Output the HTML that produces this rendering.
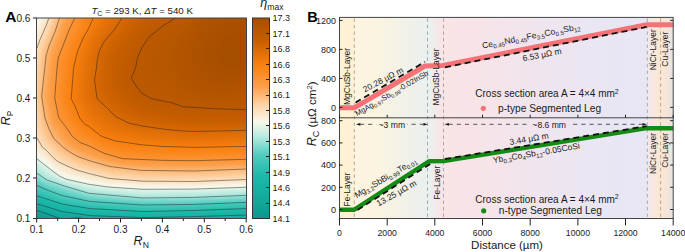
<!DOCTYPE html>
<html><head><meta charset="utf-8"><style>
html,body{margin:0;padding:0;background:#fff;}
body{width:685px;height:252px;overflow:hidden;}
svg{display:block;}
text{font-family:"Liberation Sans",sans-serif;fill:#1a1a1a;}
.t9{font-size:9px;}
.t85{font-size:8.5px;}
.t76{font-size:7.6px;}
.t95{font-size:9.5px;}
.t86{font-size:8.6px;}
.t87{font-size:8.7px;}
.t10{font-size:10px;}
.t11{font-size:11px;}
.t115{font-size:11.5px;}
.t12{font-size:12px;}
.tb{font-size:14px;font-weight:bold;fill:#000;}
</style></head><body>
<svg width="685" height="252" viewBox="0 0 685 252">
<rect width="685" height="252" fill="#fff"/>
<rect x="37.0" y="18.0" width="209.5" height="200.5" fill="#0c968a"/>
<path d="M37 18 246.5 18 246.5 218.5 37 218.5 37 18Z" fill="#0c968a"/>
<path d="M37 18 246.5 18 246.5 218.5 37 218.5 37 18Z" fill="#0c968a"/>
<path d="M37 18 246.5 18 246.5 218.5 37 218.5 37 18Z" fill="#0c968a"/>
<path d="M37 18 246.5 18 246.5 218.5 37 218.5 37 18Z" fill="#0c968a"/>
<path d="M37 18 246.5 18 246.5 218.5 37 218.5 37 18Z" fill="#0c978b"/>
<path d="M37 18 246.5 18 246.5 218.5 37 218.5 37 18Z" fill="#0d988c"/>
<path d="M37 18 246.5 18 246.5 218.5 39.6 218.5 37 217.8 37 18Z" fill="#0d9a8e"/>
<path d="M37 18 246.5 18 246.5 218.5 42.2 218.5 37 217 37 18Z" fill="#0e9b8f"/>
<path d="M37 18 246.5 18 246.5 218.5 44.5 218.5 37 216.3 37 18Z" fill="#0e9d91"/>
<path d="M37 18 246.5 18 246.5 218.5 46.7 218.5 37 215.5 37 18Z" fill="#0f9e92"/>
<path d="M37 18 246.5 18 246.5 218.5 48.7 218.5 37 214.8 37 18Z" fill="#0fa094"/>
<path d="M37 18 246.5 18 246.5 218.5 50.6 218.5 37 214.1 37 18Z" fill="#0fa195"/>
<path d="M37 18 246.5 18 246.5 218.5 52.5 218.5 37 213.4 37 18Z" fill="#10a296"/>
<path d="M37 18 246.5 18 246.5 218.5 54.3 218.5 37 212.7 37 18Z" fill="#10a396"/>
<path d="M37 18 246.5 18 246.5 218.5 56 218.5 37 212 37 18Z" fill="#11a497"/>
<path d="M37 18 246.5 18 246.5 218.5 81.3 218.5 78.9 218.2 57.7 218.5 37 211.3 37 18Z" fill="#11a598"/>
<path d="M37 18 246.5 18 246.5 218.5 82.3 218.5 78.9 217.9 70.1 218.5 59.4 218.5 37 210.7 37 18Z" fill="#12a699"/>
<path d="M37 18 246.5 18 246.5 218.5 83.3 218.5 78.9 217.6 61.9 218.3 58.9 217.8 37 210.1 37 18Z" fill="#12a699"/>
<path d="M37 18 246.5 18 246.5 218.5 84.3 218.5 78.9 217.3 62.9 217.8 58.9 217.2 37 209.5 37 18Z" fill="#13a79a"/>
<path d="M37 18 246.5 18 246.5 218.5 85.4 218.5 78.9 217 60.9 217.1 37 209 37 18Z" fill="#13a89b"/>
<path d="M37 18 246.5 18 246.5 218.5 86.7 218.5 78.9 216.7 60.9 216.5 37 208.4 37 18Z" fill="#14a99c"/>
<path d="M37 18 246.5 18 246.5 218.5 88.3 218.5 79.9 216.5 60.9 215.9 37 207.9 37 18Z" fill="#14aa9d"/>
<path d="M37 18 246.5 18 246.5 218.5 90.6 218.5 79.9 216.2 60.9 215.3 37 207.4 37 18Z" fill="#15ab9d"/>
<path d="M37 18 246.5 18 246.5 218.5 95.2 218.5 88.9 217.9 79.9 215.9 61.9 214.9 37 206.8 37 18Z" fill="#15ac9e"/>
<path d="M37 18 246.5 18 246.5 218.5 234.5 218.1 212.9 218.5 104.5 218.5 96.9 218.1 88.9 217.5 79.9 215.7 61.9 214.3 37 206.3 37 18Z" fill="#15ad9f"/>
<path d="M37 18 246.5 18 246.5 218.5 242.5 217.8 236.5 217.5 192.8 218.5 123.9 218.5 94.9 217.6 88.9 217.1 78.9 215.2 61.9 213.7 37 205.8 37 18Z" fill="#16aea0"/>
<path d="M37 18 246.5 18 246.5 217.5 235.5 216.9 173.5 218.5 132.2 218.5 90.9 216.9 78.9 214.9 61.9 213.1 37 205.2 37 18Z" fill="#16afa1"/>
<path d="M37 18 246.5 18 246.5 216.4 235.5 216.3 169.7 218.2 142.7 218.4 90.9 216.4 61.9 212.5 37 204.7 37 18Z" fill="#17b0a1"/>
<path d="M37 18 246.5 18 246.5 215.5 142.7 217.9 89.9 215.9 61.9 211.8 37 204.1 37 18Z" fill="#17b1a2"/>
<path d="M37 18 246.5 18 246.5 214.7 194.6 216.4 142.7 217.4 89.9 215.5 61.9 211.2 37 203.6 37 18Z" fill="#18b2a3"/>
<path d="M37 18 246.5 18 246.5 214.1 195.6 215.9 142.7 216.9 89.9 215 61.9 210.6 37 203 37 18Z" fill="#18b3a4"/>
<path d="M37 18 246.5 18 246.5 213.5 195.6 215.4 142.7 216.4 89.9 214.5 79.9 213.2 61.9 210 37 202.4 37 18Z" fill="#19b3a4"/>
<path d="M37 18 246.5 18 246.5 212.9 195.6 214.9 142.7 215.9 88.9 213.9 79.9 212.8 61.9 209.4 37 201.8 37 18Z" fill="#19b4a5"/>
<path d="M37 18 246.5 18 246.5 212.4 195.6 214.4 142.7 215.4 88.9 213.4 80.9 212.5 61.9 208.8 37 201.1 37 18Z" fill="#1ab5a6"/>
<path d="M37 18 246.5 18 246.5 211.9 195.6 213.9 142.7 214.9 88.9 212.8 79.9 211.7 61.9 208.2 37 200.5 37 18Z" fill="#1ab6a7"/>
<path d="M37 18 246.5 18 246.5 211.4 195.6 213.4 142.7 214.4 88.9 212.2 80.9 211.3 61.9 207.6 37 199.8 37 18Z" fill="#1bb7a8"/>
<path d="M37 18 246.5 18 246.5 210.9 195.6 212.9 142.7 213.9 88.9 211.6 79.9 210.5 61.9 207 37 199.2 37 18Z" fill="#1bb8a8"/>
<path d="M37 18 246.5 18 246.5 210.4 195.6 212.4 142.7 213.5 88.9 211 80.9 210 61.9 206.3 37 198.5 37 18Z" fill="#1cb9a9"/>
<path d="M37 18 246.5 18 246.5 209.9 195.6 211.9 142.7 213 89.9 210.4 80.9 209.3 61.9 205.7 37 197.8 37 18Z" fill="#1cbaaa"/>
<path d="M37 18 246.5 18 246.5 209.4 194.6 211.4 142.7 212.5 89.9 209.8 61.9 205.1 37 197.2 37 18Z" fill="#1fbbab"/>
<path d="M37 18 246.5 18 246.5 208.9 194.6 210.9 142.7 212 89.9 209.1 61.9 204.5 37 196.5 37 18Z" fill="#23bcad"/>
<path d="M37 18 246.5 18 246.5 208.5 194.6 210.5 142.7 211.4 89.9 208.5 61.9 203.9 37 195.7 37 18Z" fill="#26bdae"/>
<path d="M37 18 246.5 18 246.5 208 194.6 210 142.7 210.9 90.9 208 61.9 203.3 37 195 37 18Z" fill="#29bfaf"/>
<path d="M37 18 246.5 18 246.5 207.5 194.6 209.5 142.7 210.4 90.9 207.4 61.9 202.6 37 194.2 37 18Z" fill="#2cc0b1"/>
<path d="M37 18 246.5 18 246.5 207 194.6 209 142.7 209.9 90.9 206.8 61.9 202 37 193.4 37 18Z" fill="#30c1b2"/>
<path d="M37 18 246.5 18 246.5 206.5 194.6 208.5 142.7 209.4 91.9 206.3 61.9 201.3 37 192.6 37 18Z" fill="#33c2b3"/>
<path d="M37 18 246.5 18 246.5 206 194.6 208 142.7 208.8 91.9 205.7 61.9 200.6 37 191.7 37 18Z" fill="#36c3b5"/>
<path d="M37 18 246.5 18 246.5 205.5 194.6 207.5 142.7 208.3 91.9 205.2 61.9 199.9 37 190.9 37 18Z" fill="#39c4b6"/>
<path d="M37 18 246.5 18 246.5 205.1 194.6 207 142.7 207.8 91.9 204.6 61.9 199.3 37 190 37 18Z" fill="#3dc6b7"/>
<path d="M37 18 246.5 18 246.5 204.6 194.6 206.5 142.7 207.3 90.9 204 61.9 198.6 47 193.3 37 189.2 37 18Z" fill="#40c7b9"/>
<path d="M37 18 246.5 18 246.5 204.1 194.6 206.1 142.7 206.7 90.9 203.4 61.9 197.9 46.8 192.4 37 188.3 37 18Z" fill="#43c8ba"/>
<path d="M37 18 246.5 18 246.5 203.6 194.6 205.6 142.7 206.2 89.9 202.8 61.9 197.2 47 191.7 37 187.5 37 18Z" fill="#47c9bb"/>
<path d="M37 18 246.5 18 246.5 203 194.6 205 142.7 205.7 89.9 202.2 61.9 196.4 47 191 37 186.6 37 18Z" fill="#4acabd"/>
<path d="M37 18 246.5 18 246.5 202.5 194.6 204.5 142.7 205.1 89.9 201.6 61.9 195.7 47 190.2 37 185.7 37 18Z" fill="#4dcbbe"/>
<path d="M37 18 246.5 18 246.5 202 194.6 204 142.7 204.6 89.9 201 61.9 194.9 47 189.4 37 184.8 37 18Z" fill="#50ccbf"/>
<path d="M37 18 246.5 18 246.5 201.5 194.6 203.5 142.7 204.1 89.9 200.4 61.9 194 47 188.6 37 183.9 37 18Z" fill="#56cec1"/>
<path d="M37 18 246.5 18 246.5 200.9 194.6 203 142.7 203.5 89.9 199.8 61.9 193.1 47 187.8 37 183 37 18Z" fill="#5dd0c3"/>
<path d="M37 18 246.5 18 246.5 200.4 194.6 202.4 142.7 203 90.9 199.3 85.9 198.4 61.9 192.2 47 186.9 37 182.1 37 18Z" fill="#64d2c6"/>
<path d="M37 18 246.5 18 246.5 199.8 194.6 201.9 142.7 202.4 90.9 198.6 84.8 197.4 61.9 191.3 47 186.1 37 181.1 37 18Z" fill="#6bd4c8"/>
<path d="M37 18 246.5 18 246.5 199.2 194.6 201.3 142.7 201.9 90.9 198 85.9 197 65.9 191.6 50 186.4 44 184 37 180.1 37 18Z" fill="#72d6ca"/>
<path d="M37 18 246.5 18 246.5 198.7 194.6 200.7 142.7 201.3 90.9 197.3 86.2 196.4 66.9 191 49 185.3 43 182.7 37 179.1 37 18Z" fill="#79d8cc"/>
<path d="M37 18 246.5 18 246.5 198.1 194.6 200.2 142.7 200.7 90.9 196.6 86.9 195.9 66.9 190.2 48 184.1 43 181.9 37 178.1 37 18Z" fill="#80dace"/>
<path d="M37 18 246.5 18 246.5 197.5 194.6 199.6 142.7 200.1 90.9 195.9 86.9 195.3 75.9 192 48 183.3 43.7 181.4 37 177 37 18Z" fill="#87dcd1"/>
<path d="M37 18 246.5 18 246.5 196.9 194.6 199 142.7 199.6 89.9 195.2 66.9 188.6 47 182.2 43.5 180.4 37 176 37 18Z" fill="#8eded3"/>
<path d="M37 18 246.5 18 246.5 196.3 194.6 198.4 142.7 199 89.9 194.5 66.9 187.9 47 181.4 37 174.9 37 18Z" fill="#95e0d5"/>
<path d="M37 18 246.5 18 246.5 195.6 194.6 197.8 142.7 198.4 89.9 193.8 65.9 186.9 47 180.5 37 173.8 37 18Z" fill="#9de2d7"/>
<path d="M37 18 246.5 18 246.5 195 194.6 197.1 142.7 197.7 89.9 193.1 65.9 186.2 48 180.1 45 178.5 37 172.7 37 18Z" fill="#a4e4d9"/>
<path d="M37 18 246.5 18 246.5 194.4 194.6 196.5 142.7 197 89.9 192.4 65.9 185.6 48.6 179.4 45 177.4 37 171.6 37 18Z" fill="#abe6dc"/>
<path d="M37 18 246.5 18 246.5 193.7 194.6 195.8 142.7 196.4 90.9 191.8 65.9 184.9 49 178.7 46 177.1 37 170.4 37 18Z" fill="#b2e8de"/>
<path d="M37 18 246.5 18 246.5 193.1 194.6 195.1 142.7 195.7 90.9 191.1 66.9 184.7 57 181.1 47 176.6 37 169.3 37 18Z" fill="#b9eae0"/>
<path d="M37 18 246.5 18 246.5 192.4 194.6 194.4 142.7 194.9 91.9 190.5 87.9 189.8 66.9 184.1 58.9 181.2 48 176.2 37 168.1 37 18Z" fill="#beebe1"/>
<path d="M37 18 246.5 18 246.5 191.7 194.6 193.7 142.7 194.2 109.8 191.6 91.9 189.7 86.9 188.8 66.9 183.5 58.9 180.6 48.4 175.4 37 167 37 18Z" fill="#c4ece2"/>
<path d="M37 18 246.5 18 246.5 191 194.6 193 142.7 193.5 109.8 191 91.9 189 66.9 182.9 60.1 180.4 49 174.7 37 165.8 37 18Z" fill="#c9eee3"/>
<path d="M37 18 246.5 18 246.5 190.4 194.6 192.3 142.7 192.8 109.8 190.4 92.9 188.4 87.9 187.6 66.9 182.4 61.6 180.4 50 174.3 37 164.6 37 18Z" fill="#cfefe4"/>
<path d="M37 18 246.5 18 246.5 189.7 194.6 191.7 142.7 192 109.8 189.7 92.9 187.7 85.9 186.4 66.9 181.8 63 180.4 58 178.1 50.2 173.4 37 163.5 37 18Z" fill="#d4f0e5"/>
<path d="M37 18 246.5 18 246.5 189 194.6 191 143.7 191.3 107.8 188.9 88.9 186.4 64.9 180.6 58.1 177.4 51.8 173.4 37 162.3 37 18Z" fill="#daf1e6"/>
<path d="M37 18 246.5 18 246.5 188.4 194.6 190.3 143.7 190.6 107.8 188.2 88.9 185.6 64.9 180 57.7 176.4 50 171.1 37 161.1 37 18Z" fill="#dff3e7"/>
<path d="M37 18 246.5 18 246.5 187.7 194.6 189.7 142.7 189.9 107.8 187.6 88.9 184.9 65.1 179.4 58 175.7 37 159.9 37 18Z" fill="#e5f4e8"/>
<path d="M37 18 246.5 18 246.5 187.1 194.6 189 142.7 189.2 108.8 187.1 88.9 184.2 65.9 179 58.8 175.4 37.8 159.4 37 158.7 37 18Z" fill="#eaf5e9"/>
<path d="M37.8 19 38.4 18 246.5 18 246.5 186.5 194.6 188.4 142.7 188.5 108.8 186.4 88.9 183.4 65.9 178.3 59.9 175.3 39 159.1 37 157.5 37 20.3 37.8 19Z" fill="#f0f6ea"/>
<path d="M39.8 18 246.5 18 246.5 185.9 194.6 187.8 143.7 187.9 108.8 185.7 88.9 182.6 65.9 177.5 59.9 174.3 39.5 158.3 37 156.1 37 22.8 39.8 18Z" fill="#f5f7eb"/>
<path d="M40.8 18 246.5 18 246.5 185.3 194.6 187.2 143.7 187.2 109.8 185.2 88.9 181.8 66.9 176.9 60.2 173.4 47.2 163.4 37 154.8 37 25.2 40.8 18Z" fill="#f8f7e9"/>
<path d="M41.8 18 246.5 18 246.5 184.7 194.6 186.6 143.7 186.6 109.8 184.5 88.9 180.9 67.9 176.3 61.8 173.4 51 165.4 37 153.4 37 27.6 41.8 18Z" fill="#f9f4e4"/>
<path d="M42.8 18 246.5 18 246.5 184.1 194.6 186 144.7 186 109.8 183.8 88.9 180.1 67.9 175.3 61.9 172.4 51.1 164.4 37 152 37 30 42.8 18Z" fill="#f9f1df"/>
<path d="M43.7 18 246.5 18 246.5 183.5 194.6 185.4 144.7 185.3 109.8 183.1 88.9 179.2 68.9 174.6 62.9 171.8 52.4 164.4 40 153.6 37 150.4 37 32.3 43.7 18Z" fill="#f9efda"/>
<path d="M44.6 18 246.5 18 246.5 182.8 194.6 184.8 144.7 184.7 110.8 182.5 89.1 178.4 69.9 173.8 62.9 170.6 53 163.7 40 152.3 37 148.8 37 34.6 44.6 18Z" fill="#faecd5"/>
<path d="M45.5 18 246.5 18 246.5 182.2 194.6 184.2 144.7 184 110.8 181.8 88.9 177.4 71.9 173.3 64.8 170.4 53.9 163.4 40.5 151.3 37 146.9 37 37 44 22.1 45.5 18Z" fill="#fae9d0"/>
<path d="M46.3 18 246.5 18 246.5 181.6 194.6 183.5 143.7 183.4 109.8 181 88.9 176.5 72.8 172.4 64.9 169.1 54 162.4 40.9 150.3 37 144.8 37 39.4 44.5 23 46.3 18Z" fill="#fae7cb"/>
<path d="M46.8 19 47.1 18 246.5 18 246.5 180.9 194.6 182.9 143.7 182.7 110.8 180.4 89.9 175.8 74.9 171.9 65.9 168.3 55.4 162.4 41.3 149.3 37 142.6 37 42 46.8 19Z" fill="#fbe4c6"/>
<path d="M47.7 19 48 18 246.5 18 246.5 180.3 194.6 182.3 143.7 182 109.8 179.5 75.9 171.1 65.9 167 56 161.6 50.2 156.3 46 151.7 41.7 148.3 37 140.4 37 44.7 47.7 19Z" fill="#fbe1c1"/>
<path d="M48.8 18 246.5 18 246.5 179.6 194.6 181.6 142.7 181.3 109.8 178.7 76.9 170.3 65.9 165.7 57 161.1 51 155.7 46.2 150.3 42.3 147.3 37 138.2 37 47.7 39.6 40.1 46.3 25 48.8 18Z" fill="#fcdfbc"/>
<path d="M49.6 18 246.5 18 246.5 178.9 194.6 180.9 143.7 180.6 109.8 177.8 76.9 169.1 65.9 164.4 57 159.8 52 155.2 47 149.6 43.1 146.3 38.4 138.3 37 135.1 37 51 40.2 41.1 47.2 25 49.6 18Z" fill="#fcdcb7"/>
<path d="M50.5 18 246.5 18 246.5 178.1 194.6 180.2 143.7 179.8 110.8 177 89.9 171.9 77.9 168.3 60 160.4 57 158.3 44 145.5 39.1 137.3 37 130.8 37 55.2 40.3 43.1 48 25.3 50.5 18Z" fill="#fcd9b2"/>
<path d="M51.3 18 246.5 18 246.5 177.3 194.6 179.4 144.7 179 110.8 176.1 90.9 171.1 78.4 167.4 64.7 161.4 58 157.6 53.2 153.3 44 143.3 39.5 135.3 37 124.8 37.1 60.1 38.5 52.1 40.6 45.1 48.5 26 51.3 18Z" fill="#fdd7ad"/>
<path d="M51.8 19 52.1 18 246.5 18 246.5 176.5 194.6 178.6 144.7 178.2 111.8 175.2 91.9 170.4 78.9 166.4 63.2 159.4 57.9 156.1 46.1 144.3 41.8 137.3 40 133.3 38.7 128.3 37 115 37 70 38.5 57.1 39.7 51.1 41.8 44.1 49 27 51.8 19Z" fill="#fdd4a8"/>
<path d="M52.9 18 246.5 18 246.5 175.6 194.6 177.7 144.7 177.4 111.8 174.3 90.9 169.1 79.1 165.4 63.9 158.4 58 154.6 46.8 143.3 44.2 139.3 41.7 134.3 39.8 128.3 38.3 120.3 37 100.1 37.4 76.1 39.9 54.1 42.7 44.1 49.9 27 52.9 18Z" fill="#fdd0a2"/>
<path d="M53.8 18 246.5 18 246.5 174.7 195.6 176.8 145.7 176.5 112.8 173.3 105.8 172 79.9 164.6 66.2 158.4 58.9 153.8 48 143 44.9 138.3 42.5 133.3 41 128.3 39.3 120.3 37.1 95.2 38.6 71.1 40.7 54.1 43.6 44.1 50.4 28 53.8 18Z" fill="#fdcd9b"/>
<path d="M54.6 18 246.5 18 246.5 173.9 195.6 176 144.7 175.6 111.8 172.2 90.9 167 79.9 163.5 66.9 157.4 59 152.3 48.9 142.3 46.3 138.3 43.4 132.3 40.1 119.3 37.8 95.2 39.5 71.1 41.6 54.1 44.6 44.1 51 28.9 54.6 18Z" fill="#fdc995"/>
<path d="M55.5 18 246.5 18 246.5 172.9 194.6 175.1 144.7 174.7 138.8 174.3 109.8 170.9 88.9 165.4 79.9 162.4 73.1 159.4 65.6 155.3 59.9 151.5 49.5 141.3 47 137.3 44.3 131.3 41 119.2 38.5 95.2 40.4 71.1 42.5 54.1 45.5 44.1 51.8 29 55.5 18Z" fill="#fdc68e"/>
<path d="M56.3 18 246.5 18 246.5 172 194.6 174.1 139.8 173.5 109.8 169.8 89.9 164.6 80.9 161.6 75.5 159.4 68.9 156 60.9 150.7 50.9 141.3 48.4 137.3 45.6 131.3 41.7 118.2 39.2 95.2 41.3 71.1 43.4 54.1 46 45.1 52.4 30 56.3 18Z" fill="#fdc288"/>
<path d="M56.9 19 57.2 18 246.5 18 246.5 171.1 194.6 173.2 139.8 172.5 109.8 168.8 89.9 163.6 76.9 158.9 70 155.3 61.9 150 51.5 140.3 46.4 130.3 42.7 118.2 39.9 95.2 44 55.1 47 45.1 53.3 30 56.9 19Z" fill="#fdbe82"/>
<path d="M57.8 19 58.1 18 246.5 18 246.5 170.3 194.6 172.3 140.8 171.7 109.8 167.9 89.9 162.5 77.9 158.2 70.9 154.7 62.9 149.3 53 140.3 47.7 130.3 43.6 118.2 40.6 96.2 44.9 55.1 47.9 45.1 53.9 31 57.8 19Z" fill="#fdbb7b"/>
<path d="M58.7 19 59 18 246.5 18 246.5 169.4 194.6 171.4 140.8 170.8 109.8 166.9 89.9 161.4 79.9 158 72.9 154.5 63.6 148.3 53.6 139.3 48.5 129.3 44.5 118.2 41.3 96.2 45.8 55.1 48.9 45.1 54.8 31 58.7 19Z" fill="#fcb775"/>
<path d="M59.7 19 60 18 246.5 18 246.5 168.6 194.6 170.5 140.8 169.9 109.8 165.9 90.9 160.7 80.9 157.2 73.9 153.8 64.3 147.3 54.5 138.3 49.3 128.3 45.3 117.2 42.1 96.2 46.7 55.1 49.8 45.1 55.8 31 59.7 19Z" fill="#fcb46e"/>
<path d="M60.7 19 61.1 18 246.5 18 246.5 167.7 193.6 169.7 142.7 169.1 124.8 167.1 109.8 165 89.9 159.2 80.9 156 74.9 153.1 64.9 146.4 55.4 137.3 50.1 127.3 46.3 117.2 42.9 96.2 47.7 55.1 50.5 46.1 56.4 32 60.7 19Z" fill="#fcb068"/>
<path d="M61.8 19 62.2 18 246.5 18 246.5 167 193.6 168.8 142.7 168.2 123.8 166.2 109.8 164 89.9 158.1 80.9 154.8 75.7 152.3 65.9 145.7 57 137 51 126.4 47.4 117.2 43.9 96.2 48.7 55.1 51.5 46.1 57.4 32 61.8 19Z" fill="#fcad61"/>
<path d="M62.9 19 63.3 18 246.5 18 246.5 166.2 192.6 168 143.7 167.3 123.8 165.4 109.8 163.1 90.9 157.3 76.9 151.8 72.9 149.5 67.3 145.3 58 136 51.2 124.3 48.2 116.2 44.8 96.2 49.5 56.1 52.2 47.1 58 33 62.9 19Z" fill="#fca95b"/>
<path d="M64.5 18 246.5 18 246.5 165.4 192.6 167.1 143.7 166.5 123.8 164.7 108.8 162 91.2 156.3 76.9 150.6 67.9 144.4 59.1 135.3 51.9 123.3 49.1 115.2 45.8 96.2 50.5 56.1 53 48 64.5 18Z" fill="#fca555"/>
<path d="M65.7 18 246.5 18 246.5 164.6 192.6 166.3 144.7 165.6 123.8 164 109.8 161.3 97.1 157.3 78.9 150.3 74.9 148.2 69.6 144.3 65.2 140.3 60 134.3 52.6 122.3 50.2 115.2 46.9 96.2 51.5 56.1 54 48.1 65.7 18Z" fill="#fca24e"/>
<path d="M66.5 19 66.9 18 246.5 18 246.5 163.9 192.6 165.5 144.7 164.7 122.8 163.1 109.8 160.4 99.8 157.3 78.9 149.1 74.9 146.9 70.1 143.3 65.9 139.3 61.7 134.3 56 126.1 53.3 121.3 51.3 115.2 48 96.2 52.5 56.1 55 48.6 66.5 19Z" fill="#fc9f49"/>
<path d="M67.8 19 68.2 18 246.5 18 246.5 163.1 192.6 164.7 146.7 163.9 122.8 162.4 110.8 159.8 101.8 157.1 78.9 147.9 70.9 142.6 67.5 139.3 63.3 134.3 57 125.4 54 120.3 52.2 114.2 49.1 96.2 53.5 56.1 67.8 19Z" fill="#fc9d46"/>
<path d="M69.6 18 246.5 18 246.5 162.3 192.6 163.9 159.7 163.5 122.8 161.6 110.8 158.9 102.3 156.3 78.9 146.7 71.9 141.9 66.5 136.3 55.1 120.3 53.6 115.2 50.6 100.2 50.3 96.2 53.1 66.1 54.6 56.1 65.6 27 69.6 18Z" fill="#fc9b42"/>
<path d="M70.9 18 246.5 18 246.5 161.5 193.6 163.1 160.7 162.7 122.8 160.9 102.8 155.6 78.9 145.5 71.9 140.4 68.1 136.3 56 119.4 54.7 115.2 51.5 97.2 54 68.1 55.4 57.1 66.4 28 70.9 18Z" fill="#fc9a3f"/>
<path d="M71.8 19 72.3 18 246.5 18 246.5 160.7 193.6 162.2 161.7 161.8 122.8 160.1 103.8 155 88.9 148.2 79.9 144.7 72.9 139.7 70.4 137.3 57.1 119.3 56.1 116.2 52.6 97.2 55.1 68.1 56.4 57.1 67.2 29 71.8 19Z" fill="#fb983c"/>
<path d="M73.7 18 246.5 18 246.5 159.9 194.6 161.4 161.7 161 122.8 159.3 103.8 154 88.9 146.9 79.9 143.4 72.9 138.2 57.9 118.2 53.9 97.2 56.1 68.1 57.5 57.1 68.5 29 73.7 18Z" fill="#fb9638"/>
<path d="M74.6 19 75.1 18 246.5 18 246.5 159.1 194.6 160.5 161.7 160.1 122.8 158.5 104.7 153.3 89.9 146.1 80.4 142.3 73.8 137.3 59.4 118.2 55.1 97.2 57.3 68.1 58.7 57.1 69.8 29 74.6 19Z" fill="#fb9435"/>
<path d="M76.5 18 246.5 18 246.5 158.2 194.6 159.6 161.7 159.1 122.8 157.5 104.8 152.3 89.9 144.9 80.9 141.1 74.9 136.5 72.9 134.4 60.5 117.2 56.4 97.2 58.4 69.1 59.8 58.1 70.3 31 76.5 18Z" fill="#fb9231"/>
<path d="M77.9 18 246.5 18 246.5 157.3 193.6 158.6 161.7 158.1 123.8 156.6 104.8 151.1 81.9 140.1 76.7 136.3 73.8 133.3 61.9 116.5 58.7 103.2 57.8 96.2 59.6 69.1 61.1 58.1 71.2 32 77.9 18Z" fill="#fb902e"/>
<path d="M78.9 19 79.3 18 246.5 18 246.5 156.3 193.6 157.6 162.7 157.2 123.8 155.5 104.8 149.9 82.9 139.1 77.9 135.5 73.9 131.3 63.5 116.2 60.4 105.2 59.1 96.2 60.8 69.1 62.5 58.1 71.9 33.5 78.9 19Z" fill="#fb8f2a"/>
<path d="M80.7 18 246.5 18 246.5 155.3 193.6 156.6 162.7 156.1 123.8 154.3 112.6 151.3 104.8 148.6 84.4 138.3 78.9 134.6 73.9 129.2 64.7 115.2 61.2 103.2 60.3 95.2 62.1 69.1 63.6 59.1 71.9 36.8 80.7 18Z" fill="#fb8d27"/>
<path d="M81.8 19 82.2 18 246.5 18 246.5 154.3 192.6 155.5 161.7 155 124.8 153.1 113.2 150.3 104.8 147.4 85.4 137.3 79.9 133.6 76.9 130.8 73.9 127 66.4 115.2 62.7 104.2 61.8 99.2 61.6 95.2 63.4 69.1 65 59.1 68 50.1 72.9 37.7 81.8 19Z" fill="#fb8b24"/>
<path d="M83.7 18 246.5 18 246.5 153.3 192.6 154.5 161.7 153.9 124.8 151.8 113.8 149.2 104.8 146.1 95.2 141.3 84.7 135.3 80.5 132.3 77.4 129.3 74.2 125.3 67.6 114.2 63.8 103.2 62.9 95.2 64.7 69.1 66.4 59.1 69.7 49.1 73.9 38.6 83.7 18Z" fill="#fb8920"/>
<path d="M84.7 19 85.2 18 246.5 18 246.5 152.2 192.6 153.4 161.7 152.7 124.8 150.4 112.8 147.7 102.8 143.9 95.8 140.3 80.9 130.8 77.9 127.9 74.9 124 69.3 114.2 65.2 103.2 64.3 99.2 64.2 95.2 66.1 69.1 67.9 59.1 70.7 50.1 74.7 40.1 84.7 19Z" fill="#fa871d"/>
<path d="M86.7 18 246.5 18 246.5 151.1 191.6 152.2 160.7 151.5 124.8 148.9 112.8 146.3 101.8 142.1 96.4 139.3 81.9 129.8 78.9 126.9 76 123.3 71.5 115.2 66.3 102.2 65.5 95.2 67.6 68.1 69.6 58.1 72.1 50.1 75.9 40.7 86.7 18Z" fill="#fa8519"/>
<path d="M87.8 19 88.2 18 246.5 18 246.5 150 192.6 151.1 160.7 150.3 124.9 147.3 112.8 144.9 100.8 140.3 97.1 138.3 81.9 127.9 77 122.3 73.6 116.2 67.7 102.2 67 99.2 66.9 95.2 69 68.1 71.7 56.1 73.8 49.1 78.5 38 84.7 26 87.8 19Z" fill="#fa8416"/>
<path d="M89.8 18 246.5 18 246.5 148.9 195.6 149.9 164.7 149.2 141.8 147.7 125.8 145.8 113.8 143.7 100.8 139 82.9 126.8 78.9 122.4 76.2 118.2 68.9 101.5 68.3 99.2 68.2 96.2 70.4 68.1 74 53.1 80.4 37 85.9 27 89.8 18Z" fill="#fa8212"/>
<path d="M91.4 18 246.5 18 246.5 147.7 193.6 148.7 160.7 147.7 141.8 146.3 127.8 144.5 114.1 142.3 100.8 137.6 88.9 128.7 83.4 125.3 77.9 118.2 73.9 108.2 70 100.2 69.6 97.2 71.9 68.1 75.7 52.1 82 37 87.6 27 91.4 18Z" fill="#fa800f"/>
<path d="M92.6 19 93.1 18 246.5 18 246.5 146.5 194.6 147.5 161.7 146.5 140.8 144.8 114.8 141 101.8 136.5 99.8 135.3 88.9 126.5 84.7 124.3 79.2 117.2 75.7 108.2 71.3 99.2 71.2 97.2 73.4 68.1 77.2 52.1 83.1 38 88.8 28 92.6 19Z" fill="#f77e0e"/>
<path d="M94.4 19 94.9 18 246.5 18 246.5 145.3 194.6 146.3 161.7 145.2 141.8 143.5 115.8 139.5 103.2 135.3 100.8 134.1 90 125.3 85.9 122.8 80.9 116.7 73 98.2 74.8 70.1 79.1 51.1 84.7 38 90 29 94.4 19Z" fill="#f57d0d"/>
<path d="M96.8 18 246.5 18 246.5 144.1 193.6 145 162.7 143.9 141.8 142 115.8 137.8 105.3 134.3 101.3 132.3 86.9 121.1 84.3 118.2 82.3 115.2 75.1 98.2 74.9 91.2 76.4 71.1 77.1 66.1 80.7 51.1 85.8 39.1 91.6 29 96.8 18Z" fill="#f27b0d"/>
<path d="M98.8 18 246.5 18 246.5 142.8 193.6 143.8 162.7 142.6 141.8 140.5 116.8 136.3 107.4 133.3 101.8 130.4 88.9 120.1 86 117.2 83.9 114.2 77.1 98.2 76.7 90.2 77.9 72.1 80.7 57.1 82.7 50.1 87 40.1 93.3 29 98.8 18Z" fill="#ef790c"/>
<path d="M100.4 19 100.9 18 246.5 18 246.5 141.6 192.6 142.5 162.7 141.2 141.8 139.1 118.8 135.1 109.7 132.3 102.8 128.9 90.9 119.3 87.7 116.2 85 112.2 81.2 104.2 79.1 98.2 78.4 90.2 79.3 75.1 81.9 59.2 84.8 49.1 88.7 40.1 100.4 19Z" fill="#ed770b"/>
<path d="M102.6 19 103.2 18 246.5 18 246.5 140.3 192.6 141.3 163.7 139.9 143.7 137.9 121.8 134 112 131.3 103.9 127.3 93.9 119.3 89.9 115.6 86.9 111.7 83.9 105.9 81.3 99.2 80.2 91.2 80.7 77.1 83.2 61.1 86.4 49.1 90.4 40.1 102.6 19Z" fill="#ea760a"/>
<path d="M105.5 18 246.5 18 246.5 139 192.6 140 163.7 138.5 143.7 136.4 123.8 132.8 112.8 129.7 104.8 125.5 95.8 118.2 91.9 114.6 88.9 111.1 85.9 105.9 83.6 100.2 82.5 96.2 82 91.2 82.6 76.1 85.5 58.1 88.5 48.1 92.8 39.1 105.5 18Z" fill="#e87409"/>
<path d="M107.3 19 107.9 18 246.5 18 246.5 137.7 192.6 138.7 164.7 137.2 146.7 135.3 127.8 132.1 115.8 128.8 107.8 125.1 99 118.2 93.9 113.6 90.8 110.2 88.2 106.2 85.9 101.2 84.7 97.2 84 92.2 84.1 78.2 87.1 59.1 90.2 48.1 94.9 38.6 107.3 19Z" fill="#e57209"/>
<path d="M109.8 19 110.4 18 246.5 18 246.5 136.4 193.6 137.5 167.7 136 151.7 134.4 130.8 131.1 119.9 128.3 110.5 124.3 102.3 118.2 92.9 109.4 90.5 106.2 88.3 102.2 87 98.2 86.1 93.2 85.9 79.2 88.9 59.1 92 48.1 97.1 38 109.8 19Z" fill="#e27008"/>
<path d="M112.3 19 113 18 246.5 18 246.5 135 194.6 136.2 179.7 135.5 157.7 133.6 140.8 131.3 124.8 128 112.8 123.3 104.7 117.2 94.8 108.2 91.9 104.6 90.1 101.2 88.2 93.2 87.7 79.2 90.9 58.4 93.8 48.1 98.9 38.3 112.3 19Z" fill="#e06f07"/>
<path d="M115.6 18 246.5 18 246.5 133.6 194.6 134.8 180.7 134.2 160.7 132.5 141.8 129.8 126.8 126.8 114.8 122 108.2 117.2 95.9 106 92.3 101.2 91.2 98.2 90.5 94.2 89.7 79.2 92.8 58.1 95.6 48.1 100.4 39.1 109 28 115.6 18Z" fill="#dd6d06"/>
<path d="M117.6 19 118.3 18 246.5 18 246.5 132.3 194.6 133.5 181.7 132.9 161.7 131.1 141.8 128.2 128.8 125.6 115.8 120.1 111.7 117.2 96.9 103.6 94.2 100.2 93 95.2 91.7 79.2 94.6 59.1 97.2 49.1 101.9 40.1 111 29 117.6 19Z" fill="#da6b06"/>
<path d="M120.4 19 121 18 246.5 18 246.5 130.9 194.6 132.1 181.7 131.5 162.7 129.6 141.8 126.5 128.8 123.8 114.8 117 96.3 99.2 93.8 79.2 95.7 68.1 96.3 61.1 98.8 50.1 103.4 41.1 112.8 30.3 120.4 19Z" fill="#d86905"/>
<path d="M123.8 18 246.5 18 246.5 129.4 194.6 130.6 181.7 130 162.7 128 142.7 125 129.8 122.1 118.1 116.2 115.8 114.6 99.5 98.2 97.9 91.5 96.2 79.2 98.5 61.1 100.7 51.1 105.3 42.1 114.3 32 123.8 18Z" fill="#d56804"/>
<path d="M126.6 18 246.5 18 246.5 128 194.6 129.1 181.7 128.4 162.7 126.4 142.7 123.2 131 120.3 121.1 115.2 116.8 112.2 105.3 100.2 102.2 96.2 100.8 92.4 99.5 86.2 98.8 81.2 98.9 77.1 100.9 60.1 102.1 54.1 103.6 50.1 107.5 43.1 116.2 33 126.6 18Z" fill="#d36603"/>
<path d="M129.5 18 246.5 18 246.5 126.6 194.6 127.5 181.7 126.8 163.7 124.8 143.7 121.5 132.8 118.6 124.8 114.8 117.8 109.8 107.2 98.2 105.1 95.2 103.4 91.2 101.9 85.2 101.3 79.2 102.8 63.1 104.6 54.1 108.4 46.1 118.9 33 129.5 18Z" fill="#d06402"/>
<path d="M131.8 19 132.5 18 246.5 18 246.5 125.1 193.6 125.8 181.7 125.2 165.7 123.3 145.7 120 135.2 117.2 127.8 114 119.7 108.2 114.8 103.2 109.8 97.2 107.3 93.2 105.7 89.2 104.4 84.2 103.9 79.2 105.1 64.1 107 55.1 110.1 48.1 131.8 19Z" fill="#cd6202"/>
<path d="M135.7 18 246.5 18 246.5 123.6 192.6 124.1 180.7 123.4 165.7 121.4 147 118.2 136.8 115.5 128.8 111.9 120.8 105.9 112.4 96.2 109.8 92 107.9 87.2 106.8 82.2 106.4 77.1 107.7 63.1 109.7 55.1 113.1 48.1 135.7 18Z" fill="#cb6101"/>
<path d="M138.2 19 139 18 246.5 18 246.5 122 193.6 122.4 182.7 121.8 172.7 120.5 151.7 117.1 139.8 114.2 130.7 110.2 122.6 104.2 118.8 100.2 114.9 95.2 112.5 91.2 110.5 86.2 109.4 81.2 109.1 76.1 110.2 64.1 112.3 56.1 115.7 49.1 138.2 19Z" fill="#c85f00"/>
<path d="M142.7 18 246.5 18 246.5 120.4 193.6 120.5 183.6 120 174.7 118.9 152.7 115.2 140.9 112.2 131.8 108 123.8 101.8 119.8 97.3 116.8 93.2 114.6 89.2 112.8 84.2 112.1 80.2 111.8 75.1 112.2 69.1 113.2 63.1 115.8 55.1 119.6 48.1 133.8 28.8 142.7 18Z" fill="#c65e00"/>
<path d="M145.7 19 146.6 18 246.5 18 246.5 118.8 193.6 118.5 177.3 117.2 153.7 113.2 142.7 110.4 133.7 106.2 126 100.2 119.5 92.2 117.3 88.2 115.8 84.2 114.9 80.2 114.6 75.1 114.9 70.1 116 64.1 118.8 55.7 123.7 47.1 135.8 30.4 145.7 19Z" fill="#c45d00"/>
<path d="M150 19 151.1 18 246.5 18 246.5 117.1 193.6 116.5 178.7 115.3 153.7 110.8 144.7 108.5 135.6 104.2 128 98.2 124.5 94.2 121.7 90.2 119.7 86.2 118.4 82.2 117.6 74.1 119.3 64.1 123.1 54.1 129.8 43.1 139.8 29.8 150 19Z" fill="#c25c00"/>
<path d="M155 19 156.2 18 246.5 18 246.5 115.3 192.6 114.3 179.7 113.2 153.7 108.2 146.4 106.2 141.5 104.2 136.8 101.6 129.8 95.6 124.2 88.2 122.3 84.2 121.2 80.2 120.8 76.1 121 72.1 123.2 63.1 128 52.1 136.2 39.1 143.7 29.7 155 19Z" fill="#c05b00"/>
<path d="M160.9 19 162.3 18 246.5 18 246.5 113.4 194.6 112 181.7 111.2 148.7 104 143.7 101.9 138.9 99.2 132.1 93.2 126.5 85.2 124.9 81.2 124.3 78.2 125 71.1 129.3 58.1 135.3 46.1 143.1 35 149.7 28.3 160.9 19Z" fill="#bf5a00"/>
<path d="M168.3 19 169.9 18 246.5 18 246.5 111.3 214.6 110.4 182.7 108.7 170.7 105.1 150.7 101.2 140.8 96.1 134.8 90.2 129.6 82.2 128.4 79.2 128.2 77.1 128.8 74 135.5 54.1 139.8 45.7 147.6 35 160.6 24 168.3 19Z" fill="#bd5900"/>
<path d="M176.3 19 177.3 18 246.5 18 246.5 108.9 214.6 107.9 183.7 105.8 171.7 101.5 152.7 97.5 143.7 92.5 141.8 90.5 137.8 85.2 134.9 79.2 134.5 77.1 137.5 68.1 139.2 58.1 142.8 49.1 150.7 37.5 163.5 27 176.3 19Z" fill="#bb5900"/>
<path d="M181.4 19 182.1 18 246.5 18 246.5 105.8 214.6 105.3 195.6 103.6 185 102.2 170.7 96.4 155 91.2 150 88.2 147 85.2 144.4 80.2 143.7 74.1 145.4 59.1 146.8 54.1 148.9 49.1 152.7 43.1 156.5 39.1 164.8 32 176.7 23.9 181.4 19Z" fill="#b95800"/>
<path d="M186.6 18 246.5 18 246.5 102 233.5 102.8 217.6 102.6 201.6 101 188.6 98.8 182.7 96.7 174.8 92.2 159.7 81.5 156.2 78.2 153.7 73 152.7 65.1 153.5 57.1 156 50.1 158.5 46.1 161.8 42.1 167 37 179.7 26.6 183.7 22.3 186.6 18Z" fill="#b75700"/>
<path d="M190.3 19 190.8 18 246.5 18 246.5 97.4 235.5 99.3 221.6 99.7 206.6 98.3 193.6 95.7 186.6 93 180.7 89 174.7 83.2 167.5 74.1 164.6 69.1 162.8 63.1 162.9 57.1 164.6 51.1 166.7 47.1 169.6 43.1 183.7 28.3 190.3 19Z" fill="#b55600"/>
<path d="M194.5 19 195.1 18 246.5 18 246.5 92.4 236.5 95.2 228.5 96.2 218.6 96.2 207.6 94.8 198.6 92.6 191.6 89.7 185.6 85.3 181.3 80.2 177.2 73.1 173.3 64.1 172.3 58.1 172.9 53.1 174.2 49.1 176.9 44.1 188.9 28 194.5 19Z" fill="#b35500"/>
<path d="M199.5 18 246.5 18 246.5 88 236.5 91.1 229.5 92.3 221.6 92.6 212.6 91.7 204.6 89.9 197.6 87 192.1 83.2 187.7 78.2 184.5 72.1 181.2 63.1 180.3 57.1 180.7 52.1 181.8 48.1 184.1 43.1 199.5 18Z" fill="#b15400"/>
<path d="M203.5 19 204 18 246.5 18 246.5 84.4 235.5 87.3 229.5 88.5 222.6 88.7 214.6 87.9 207.6 86.1 201.6 83.4 196.6 79.6 192.9 75.1 189.7 69.1 187.7 63.1 186.8 57.1 187.3 51.1 188.7 46.1 190.9 41.1 203.5 19Z" fill="#af5300"/>
<path d="M208.4 19 209 18 246.5 18 246.5 80.8 235.5 83.5 229.5 84.5 223.6 84.7 216.6 83.9 210.6 82.2 204.7 79.2 200.6 75.7 197.1 71.1 194.7 66.1 193.1 60.1 192.7 55.1 193.4 49.1 195 44.1 197.2 39.1 208.4 19Z" fill="#ae5200"/>
<path d="M214.3 19 215 18 246.5 18 246.5 77.1 236.5 79.6 230.5 80.6 225.6 80.7 219.6 79.9 213.6 78.2 208.6 75.5 204.8 72.1 201.6 67.7 199.6 63.1 198.5 58.1 198.4 53.1 199.4 47.1 201.1 42.1 204 36 214.3 19Z" fill="#ac5100"/>
<path d="M223.7 19 225 18 246.5 18 246.5 73.2 232.5 76.5 226.5 76.6 221.6 75.9 216.5 74.1 211.6 71.1 207.9 67.1 205.7 63.1 204.3 58.1 204 53.1 204.7 48.1 206.3 43.1 209.6 36.3 214.6 28.6 218.6 23.7 223.7 19Z" fill="#aa5000"/>
<path d="M246.5 18 246.5 68.7 238.5 71.3 231.5 72.5 225.6 72.2 219.6 70.2 216.4 68.1 213.5 65.1 211.6 62.1 210.3 58.1 209.8 54.1 210.2 50.1 211.2 46.1 212.9 42.1 217.6 34.9 223.6 29.2 230.5 25.3 242.5 21.2 244.6 20 246.5 18Z" fill="#a84f00"/>
<path d="M246.5 31 246.5 63.1 238.5 66.6 232.5 68 226.5 67.5 221.7 65.1 218.2 61.1 216.9 58.1 216.4 55.1 217.2 49.1 218.6 45.6 220.6 42.5 224.6 38.4 229.5 35.3 234.5 33.6 246.5 31Z" fill="#a64e00"/>
<path d="M233 45.1 238.5 44.3 243 45.1 245.9 47.1 246.4 48.1 246.5 50.1 244.3 54.1 240.2 58.1 235.1 61.1 230.5 62.1 228.1 61.1 226.1 59.1 225.2 57.1 225 54.1 225.9 51.1 227.5 48.6 229.5 46.8 233 45.1Z" fill="#a54e00"/>
<path d="M60.1 218.5 37 210.5M82.6 218.5 80.9 218 78.9 217.8 68.2 218.5M246.5 215 194.6 216.6 142.7 217.6 89.9 215.6 61.9 211.5 37 203.8M246.5 208.5 194.6 210.5 142.7 211.5 89.9 208.6 61.9 204 37 195.8M246.5 202.4 194.6 204.4 142.7 205 89.9 201.5 61.9 195.5 47 190 37 185.5M246.5 195.3 194.6 197.4 142.7 198 89.9 193.4 87.9 193 66.9 186.8 47.8 180.4 45 178.9 37 173.2M246.5 187.2 194.6 189.1 142.7 189.3 107.8 187 88.9 184.3 65.9 179.2 60.2 176.4 58.6 175.4 50.4 169.4 37 158.9M37 48.1 39.8 40.1 46.4 25 48.9 18M246.5 179.5 194.6 181.5 142.7 181.2 108.8 178.4 88.9 173.5 76.9 170.1 66.9 165.9 58 161.6 56.3 160.4 51.9 156.3 46.4 150.3 43.6 148.3 42.5 147.3 37 137.8M246.5 169 194.6 171 140.8 170.4 109.8 166.5 90.9 161.2 78.9 157 71.9 153.4 63.9 147.9 54 138.8 49 129 45 118.2 41.7 96.2 46.2 55.1 49.3 45.1 55.3 31 59.5 18M246.5 159.3 194.6 160.7 161.7 160.3 122.8 158.7 104.1 153.3 88.9 145.9 79.9 142.4 73.3 137.3 71.9 135.7 65.9 127 59 118.2 58.4 116.2 55 99.2 54.8 97.2 57 68.1 58.5 57.1 69.5 29 74.8 18M246.5 146.4 194.6 147.4 161.7 146.4 140.8 144.7 114.8 140.8 101.8 136.4 100 135.3 88.9 126.4 84.9 124.3 83.8 123.3 79.8 118.2 75.9 108.2 71.4 99.2 71.3 97.2 73.5 69.1 73.7 67.1 77.6 51.1 83.2 38 88.9 28 93.2 18M246.5 130.3 194.6 131.5 181.7 130.9 162.7 129 142.7 126.1 129.6 123.3 127.8 122.6 116.8 117.2 115.3 116.2 104.8 105.7 97.6 99.2 96.9 97.2 94.7 81.2 94.6 79.2 96.5 68.1 97.1 61.1 99.2 51.1 104.4 41.1 113.4 31 122.1 18M246.5 109.7 214.6 108.7 182.7 106.7 171.7 102.7 151.7 98.7 141.8 93.2 136.8 87.2 132.1 79.2 131.7 78.2 131.7 77.1 135.5 68.1 137.7 57.1 141.8 47.8 148.4 38 149.7 36.6 162.6 26 173.7 19.3 175.5 18" fill="none" stroke="#222" stroke-width="0.6" stroke-opacity="0.8"/>
<rect x="36.5" y="18.0" width="210.0" height="200.5" fill="none" stroke="#444" stroke-width="1"/>
<line x1="33" y1="18.0" x2="36.5" y2="18.0" stroke="#222" stroke-width="1"/>
<text x="30.3" y="21.6" class="t10" text-anchor="end">0.6</text>
<line x1="33" y1="58.0" x2="36.5" y2="58.0" stroke="#222" stroke-width="1"/>
<text x="30.3" y="61.6" class="t10" text-anchor="end">0.5</text>
<line x1="33" y1="98.0" x2="36.5" y2="98.0" stroke="#222" stroke-width="1"/>
<text x="30.3" y="101.6" class="t10" text-anchor="end">0.4</text>
<line x1="33" y1="138.0" x2="36.5" y2="138.0" stroke="#222" stroke-width="1"/>
<text x="30.3" y="141.6" class="t10" text-anchor="end">0.3</text>
<line x1="33" y1="178.0" x2="36.5" y2="178.0" stroke="#222" stroke-width="1"/>
<text x="30.3" y="181.6" class="t10" text-anchor="end">0.2</text>
<line x1="33" y1="218.5" x2="36.5" y2="218.5" stroke="#222" stroke-width="1"/>
<text x="30.3" y="222.1" class="t10" text-anchor="end">0.1</text>
<line x1="36.7" y1="218.5" x2="36.7" y2="222.5" stroke="#222" stroke-width="1"/>
<text x="36.7" y="232.6" class="t10" text-anchor="middle">0.1</text>
<line x1="57.7" y1="218.5" x2="57.7" y2="221.0" stroke="#222" stroke-width="1"/>
<line x1="78.6" y1="218.5" x2="78.6" y2="222.5" stroke="#222" stroke-width="1"/>
<text x="78.6" y="232.6" class="t10" text-anchor="middle">0.2</text>
<line x1="99.5" y1="218.5" x2="99.5" y2="221.0" stroke="#222" stroke-width="1"/>
<line x1="120.5" y1="218.5" x2="120.5" y2="222.5" stroke="#222" stroke-width="1"/>
<text x="120.5" y="232.6" class="t10" text-anchor="middle">0.3</text>
<line x1="141.4" y1="218.5" x2="141.4" y2="221.0" stroke="#222" stroke-width="1"/>
<line x1="162.4" y1="218.5" x2="162.4" y2="222.5" stroke="#222" stroke-width="1"/>
<text x="162.4" y="232.6" class="t10" text-anchor="middle">0.4</text>
<line x1="183.3" y1="218.5" x2="183.3" y2="221.0" stroke="#222" stroke-width="1"/>
<line x1="204.3" y1="218.5" x2="204.3" y2="222.5" stroke="#222" stroke-width="1"/>
<text x="204.3" y="232.6" class="t10" text-anchor="middle">0.5</text>
<line x1="225.2" y1="218.5" x2="225.2" y2="221.0" stroke="#222" stroke-width="1"/>
<line x1="246.2" y1="218.5" x2="246.2" y2="222.5" stroke="#222" stroke-width="1"/>
<text x="246.2" y="232.6" class="t10" text-anchor="middle">0.6</text>
<defs><linearGradient id="cb" x1="0" y1="0" x2="0" y2="1">
<stop offset="0.0000" stop-color="#a54e00"/>
<stop offset="0.1156" stop-color="#c85f00"/>
<stop offset="0.2344" stop-color="#fa800f"/>
<stop offset="0.3438" stop-color="#fca04b"/>
<stop offset="0.4344" stop-color="#fdd4a8"/>
<stop offset="0.5188" stop-color="#f8f8eb"/>
<stop offset="0.5906" stop-color="#b9eae0"/>
<stop offset="0.6813" stop-color="#52cdc0"/>
<stop offset="0.7844" stop-color="#1cbaaa"/>
<stop offset="0.9594" stop-color="#0fa094"/>
<stop offset="1.0000" stop-color="#0c968a"/>
</linearGradient></defs>
<rect x="252.5" y="18.0" width="17.0" height="200.5" fill="url(#cb)" stroke="#333" stroke-width="1"/>
<text x="272.5" y="21.3" class="t9">17.3</text>
<line x1="266.0" y1="33.5" x2="269.5" y2="33.5" stroke="#222" stroke-width="1"/>
<text x="272.5" y="36.7" class="t9">17.1</text>
<line x1="266.0" y1="48.5" x2="269.5" y2="48.5" stroke="#222" stroke-width="1"/>
<text x="272.5" y="52.1" class="t9">16.8</text>
<line x1="266.0" y1="64.5" x2="269.5" y2="64.5" stroke="#222" stroke-width="1"/>
<text x="272.5" y="67.6" class="t9">16.6</text>
<line x1="266.0" y1="79.5" x2="269.5" y2="79.5" stroke="#222" stroke-width="1"/>
<text x="272.5" y="83.0" class="t9">16.3</text>
<line x1="266.0" y1="95.5" x2="269.5" y2="95.5" stroke="#222" stroke-width="1"/>
<text x="272.5" y="98.4" class="t9">16.1</text>
<line x1="266.0" y1="110.5" x2="269.5" y2="110.5" stroke="#222" stroke-width="1"/>
<text x="272.5" y="113.8" class="t9">15.8</text>
<line x1="266.0" y1="125.5" x2="269.5" y2="125.5" stroke="#222" stroke-width="1"/>
<text x="272.5" y="129.3" class="t9">15.6</text>
<line x1="266.0" y1="141.5" x2="269.5" y2="141.5" stroke="#222" stroke-width="1"/>
<text x="272.5" y="144.7" class="t9">15.3</text>
<line x1="266.0" y1="156.5" x2="269.5" y2="156.5" stroke="#222" stroke-width="1"/>
<text x="272.5" y="160.1" class="t9">15.1</text>
<line x1="266.0" y1="172.5" x2="269.5" y2="172.5" stroke="#222" stroke-width="1"/>
<text x="272.5" y="175.5" class="t9">14.9</text>
<line x1="266.0" y1="187.5" x2="269.5" y2="187.5" stroke="#222" stroke-width="1"/>
<text x="272.5" y="191.0" class="t9">14.6</text>
<line x1="266.0" y1="203.5" x2="269.5" y2="203.5" stroke="#222" stroke-width="1"/>
<text x="272.5" y="206.4" class="t9">14.4</text>
<text x="272.5" y="221.8" class="t9">14.1</text>
<text x="5.2" y="22.2" class="tb" style="font-size:15.5px">A</text>
<text x="91.4" y="13.7" style="font-size:9.7px"><tspan font-style="italic">T</tspan><tspan dy="2.2" font-size="7">C</tspan><tspan dy="-2.2"> = 293 K, </tspan><tspan font-style="italic">ΔT</tspan> = 540 K</text>
<text x="260.3" y="6.9" style="font-size:12.5px;font-style:italic">η</text>
<text x="267.3" y="10.1" style="font-size:8.6px">max</text>
<text x="133.6" y="245" style="font-size:12.5px"><tspan font-style="italic">R</tspan><tspan dy="3" font-size="8.6">N</tspan></text>
<text transform="translate(9.6 125.5) rotate(-90)" style="font-size:12.8px"><tspan font-style="italic">R</tspan><tspan dy="3" font-size="8.3">P</tspan></text>
<defs><linearGradient id="bg" gradientUnits="userSpaceOnUse" x1="339.5" y1="0" x2="673.2" y2="0">
<stop offset="0" stop-color="#fff2d4"/>
<stop offset="0.043" stop-color="#fff2d4"/>
<stop offset="0.047" stop-color="#fef5e0"/>
<stop offset="0.12" stop-color="#faf4e1"/>
<stop offset="0.2" stop-color="#f1f1e8"/>
<stop offset="0.27" stop-color="#eaf0ef"/>
<stop offset="0.29" stop-color="#f3e9ea"/>
<stop offset="0.308" stop-color="#f9e4e6"/>
<stop offset="0.4" stop-color="#f8e4e7"/>
<stop offset="0.55" stop-color="#f1e5ed"/>
<stop offset="0.75" stop-color="#eae6f3"/>
<stop offset="0.915" stop-color="#e8e6f5"/>
<stop offset="0.925" stop-color="#eee8ef"/>
<stop offset="0.95" stop-color="#fbe7d6"/>
<stop offset="0.965" stop-color="#fde6d0"/>
<stop offset="0.985" stop-color="#f3e5db"/>
<stop offset="1" stop-color="#e6e2e0"/>
</linearGradient></defs>
<rect x="339.5" y="17.4" width="333.7" height="201.1" fill="url(#bg)"/>
<line x1="354.3" y1="18.4" x2="354.3" y2="217.5" stroke="#a0a0a0" stroke-width="0.9" stroke-dasharray="3.5 3"/>
<line x1="427.5" y1="18.4" x2="427.5" y2="217.5" stroke="#a0a0a0" stroke-width="0.9" stroke-dasharray="3.5 3"/>
<line x1="443.5" y1="18.4" x2="443.5" y2="217.5" stroke="#a0a0a0" stroke-width="0.9" stroke-dasharray="3.5 3"/>
<line x1="647.3" y1="18.4" x2="647.3" y2="217.5" stroke="#a0a0a0" stroke-width="0.9" stroke-dasharray="3.5 3"/>
<line x1="660.6" y1="18.4" x2="660.6" y2="217.5" stroke="#a0a0a0" stroke-width="0.9" stroke-dasharray="3.5 3"/>
<polyline points="339.5,107.8 354.3,107.8 425.0,66.0 443.0,65.5 646.7,24.7 673.2,24.7" fill="none" stroke="#f57376" stroke-width="5" stroke-linejoin="round"/>
<polyline points="339.5,209.7 354.4,209.7 429.3,161.2 443.5,161.0 646.7,128.2 673.2,128.2" fill="none" stroke="#158a15" stroke-width="4.4" stroke-linejoin="round"/>
<line x1="355.5" y1="102.6" x2="425.0" y2="61.8" stroke="#111" stroke-width="1.8" stroke-dasharray="6 4"/>
<line x1="445.0" y1="67.3" x2="646.7" y2="26.9" stroke="#111" stroke-width="1.8" stroke-dasharray="6 4"/>
<line x1="357.5" y1="209.9" x2="430.5" y2="163.8" stroke="#111" stroke-width="1.8" stroke-dasharray="6 4"/>
<line x1="445.0" y1="159.0" x2="646.7" y2="126.1" stroke="#111" stroke-width="1.8" stroke-dasharray="6 4"/>
<rect x="339.5" y="17.4" width="333.7" height="201.1" fill="none" stroke="#444" stroke-width="1"/>
<line x1="339.5" y1="117.8" x2="673.2" y2="117.8" stroke="#444" stroke-width="1"/>
<line x1="339.5" y1="218.5" x2="339.5" y2="225.5" stroke="#222" stroke-width="1"/>
<line x1="339.5" y1="117.8" x2="339.5" y2="114.8" stroke="#222" stroke-width="1"/>
<text x="339.5" y="236.3" class="t87" text-anchor="middle">0</text>
<line x1="387.2" y1="218.5" x2="387.2" y2="225.5" stroke="#222" stroke-width="1"/>
<line x1="387.2" y1="117.8" x2="387.2" y2="114.8" stroke="#222" stroke-width="1"/>
<text x="387.2" y="236.3" class="t87" text-anchor="middle">2000</text>
<line x1="434.8" y1="218.5" x2="434.8" y2="225.5" stroke="#222" stroke-width="1"/>
<line x1="434.8" y1="117.8" x2="434.8" y2="114.8" stroke="#222" stroke-width="1"/>
<text x="434.8" y="236.3" class="t87" text-anchor="middle">4000</text>
<line x1="482.5" y1="218.5" x2="482.5" y2="225.5" stroke="#222" stroke-width="1"/>
<line x1="482.5" y1="117.8" x2="482.5" y2="114.8" stroke="#222" stroke-width="1"/>
<text x="482.5" y="236.3" class="t87" text-anchor="middle">6000</text>
<line x1="530.2" y1="218.5" x2="530.2" y2="225.5" stroke="#222" stroke-width="1"/>
<line x1="530.2" y1="117.8" x2="530.2" y2="114.8" stroke="#222" stroke-width="1"/>
<text x="530.2" y="236.3" class="t87" text-anchor="middle">8000</text>
<line x1="577.9" y1="218.5" x2="577.9" y2="225.5" stroke="#222" stroke-width="1"/>
<line x1="577.9" y1="117.8" x2="577.9" y2="114.8" stroke="#222" stroke-width="1"/>
<text x="577.9" y="236.3" class="t87" text-anchor="middle">10000</text>
<line x1="625.5" y1="218.5" x2="625.5" y2="225.5" stroke="#222" stroke-width="1"/>
<line x1="625.5" y1="117.8" x2="625.5" y2="114.8" stroke="#222" stroke-width="1"/>
<text x="625.5" y="236.3" class="t87" text-anchor="middle">12000</text>
<line x1="673.2" y1="218.5" x2="673.2" y2="225.5" stroke="#222" stroke-width="1"/>
<line x1="673.2" y1="117.8" x2="673.2" y2="114.8" stroke="#222" stroke-width="1"/>
<text x="673.2" y="236.3" class="t87" text-anchor="middle">14000</text>
<line x1="339.5" y1="107.4" x2="342.5" y2="107.4" stroke="#222" stroke-width="1"/>
<line x1="673.2" y1="107.4" x2="670.2" y2="107.4" stroke="#222" stroke-width="1"/>
<text x="336" y="110.6" class="t9" text-anchor="end">0</text>
<line x1="339.5" y1="78.4" x2="342.5" y2="78.4" stroke="#222" stroke-width="1"/>
<line x1="673.2" y1="78.4" x2="670.2" y2="78.4" stroke="#222" stroke-width="1"/>
<text x="336" y="81.6" class="t9" text-anchor="end">400</text>
<line x1="339.5" y1="49.4" x2="342.5" y2="49.4" stroke="#222" stroke-width="1"/>
<line x1="673.2" y1="49.4" x2="670.2" y2="49.4" stroke="#222" stroke-width="1"/>
<text x="336" y="52.6" class="t9" text-anchor="end">800</text>
<line x1="339.5" y1="20.4" x2="342.5" y2="20.4" stroke="#222" stroke-width="1"/>
<line x1="673.2" y1="20.4" x2="670.2" y2="20.4" stroke="#222" stroke-width="1"/>
<text x="336" y="23.6" class="t9" text-anchor="end">1200</text>
<line x1="339.5" y1="209.5" x2="342.5" y2="209.5" stroke="#222" stroke-width="1"/>
<line x1="673.2" y1="209.5" x2="670.2" y2="209.5" stroke="#222" stroke-width="1"/>
<text x="336" y="212.7" class="t9" text-anchor="end">0</text>
<line x1="339.5" y1="187.3" x2="342.5" y2="187.3" stroke="#222" stroke-width="1"/>
<line x1="673.2" y1="187.3" x2="670.2" y2="187.3" stroke="#222" stroke-width="1"/>
<text x="336" y="190.5" class="t9" text-anchor="end">200</text>
<line x1="339.5" y1="165.1" x2="342.5" y2="165.1" stroke="#222" stroke-width="1"/>
<line x1="673.2" y1="165.1" x2="670.2" y2="165.1" stroke="#222" stroke-width="1"/>
<text x="336" y="168.3" class="t9" text-anchor="end">400</text>
<line x1="339.5" y1="142.9" x2="342.5" y2="142.9" stroke="#222" stroke-width="1"/>
<line x1="673.2" y1="142.9" x2="670.2" y2="142.9" stroke="#222" stroke-width="1"/>
<text x="336" y="146.1" class="t9" text-anchor="end">600</text>
<line x1="339.5" y1="120.7" x2="342.5" y2="120.7" stroke="#222" stroke-width="1"/>
<line x1="673.2" y1="120.7" x2="670.2" y2="120.7" stroke="#222" stroke-width="1"/>
<text x="336" y="123.9" class="t9" text-anchor="end">800</text>
<text transform="translate(350.4 105.0) rotate(-90.00)" class="t85">MgCuSb-Layer</text>
<text transform="translate(438.9 105.6) rotate(-90.00)" class="t85">MgCuSb-Layer</text>
<text transform="translate(656.1 70.3) rotate(-90.00)" class="t85">NiCr-Layer</text>
<text transform="translate(668.3 66.7) rotate(-90.00)" class="t85">Cu-Layer</text>
<text transform="translate(349.7 206.5) rotate(-90.00)" class="t85">Fe-Layer</text>
<text transform="translate(439.8 199.8) rotate(-90.00)" class="t85">Fe-Layer</text>
<text transform="translate(656.0 174.0) rotate(-90.00)" class="t85">NiCr-Layer</text>
<text transform="translate(668.1 167.8) rotate(-90.00)" class="t85">Cu-Layer</text>
<text transform="translate(364.8 92.4) rotate(-27.50)" class="t85">20.28 µΩ m</text>
<text transform="translate(357.0 116.3) rotate(-30.00)" class="t76"><tspan dy="0">MgAg</tspan><tspan dy="2.0" font-size="5.4">0.97</tspan><tspan dy="-2.0">Sb</tspan><tspan dy="2.0" font-size="5.4">0.99</tspan><tspan dy="-2.0">-0.02InSb</tspan></text>
<text transform="translate(482.8 48.6) rotate(-11.20)" class="t85"><tspan dy="0">Ce</tspan><tspan dy="2.0" font-size="6.0">0.45</tspan><tspan dy="-2.0">Nd</tspan><tspan dy="2.0" font-size="6.0">0.45</tspan><tspan dy="-2.0">Fe</tspan><tspan dy="2.0" font-size="6.0">3.5</tspan><tspan dy="-2.0">Co</tspan><tspan dy="2.0" font-size="6.0">0.5</tspan><tspan dy="-2.0">Sb</tspan><tspan dy="2.0" font-size="6.0">12</tspan></text>
<text transform="translate(523.2 61.3) rotate(-11.20)" class="t85">6.53 µΩ m</text>
<text transform="translate(356.8 198.3) rotate(-31.00)" class="t85"><tspan dy="0">Mg</tspan><tspan dy="2.0" font-size="6.0">3.2</tspan><tspan dy="-2.0">SbBi</tspan><tspan dy="2.0" font-size="6.0">0.99</tspan><tspan dy="-2.0">Te</tspan><tspan dy="2.0" font-size="6.0">0.01</tspan></text>
<text transform="translate(378.6 206.6) rotate(-29.50)" class="t85">13.25 µΩ m</text>
<text transform="translate(510.0 145.0) rotate(-9.60)" class="t85">3.44 µΩ m</text>
<text transform="translate(493.5 163.2) rotate(-9.60)" class="t85"><tspan dy="0">Yb</tspan><tspan dy="2.0" font-size="6.0">0.3</tspan><tspan dy="-2.0">Co</tspan><tspan dy="2.0" font-size="6.0">4</tspan><tspan dy="-2.0">Sb</tspan><tspan dy="2.0" font-size="6.0">12</tspan><tspan dy="-2.0">-0.05CoSi</tspan></text>
<text x="475.3" y="97.3" class="t10">Cross section area A = 4×4 mm<tspan dy="-3.5" font-size="7">2</tspan></text>
<circle cx="483.3" cy="108.3" r="2.6" fill="#f57376"/>
<text x="498" y="111.6" style="font-size:10.2px">p-type Segmented Leg</text>
<text x="475.3" y="202.8" class="t10">Cross section area A = 4×4 mm<tspan dy="-3.5" font-size="7">2</tspan></text>
<circle cx="483.7" cy="210.8" r="2.6" fill="#158a15"/>
<text x="498.8" y="214" style="font-size:10.2px">n-type Segmented Leg</text>
<path d="M356.0 124.3 L360.4 122.9 L360.4 125.7Z" fill="#111"/>
<path d="M427.8 124.3 L423.4 122.9 L423.4 125.7Z" fill="#111"/>
<line x1="359.9" y1="124.3" x2="376.5" y2="124.3" stroke="#555" stroke-width="1" stroke-dasharray="4.2 4"/>
<line x1="423.9" y1="124.3" x2="407.0" y2="124.3" stroke="#555" stroke-width="1" stroke-dasharray="4.2 4"/>
<text x="391.8" y="127.9" class="t86" text-anchor="middle">~3 mm</text>
<path d="M444.6 124.3 L449.0 122.9 L449.0 125.7Z" fill="#111"/>
<path d="M646.8 124.3 L642.4 122.9 L642.4 125.7Z" fill="#111"/>
<line x1="448.5" y1="124.3" x2="529.5" y2="124.3" stroke="#555" stroke-width="1" stroke-dasharray="4.2 4"/>
<line x1="642.9" y1="124.3" x2="569.0" y2="124.3" stroke="#555" stroke-width="1" stroke-dasharray="4.2 4"/>
<text x="549.2" y="127.9" class="t86" text-anchor="middle">~8.6 mm</text>
<text x="471.1" y="249.3" class="t115">Distance (µm)</text>
<text transform="translate(316.2 146.3) rotate(-90)" style="font-size:11.6px"><tspan font-style="italic" font-size="12.6">R</tspan><tspan dy="2.6" font-size="9">C</tspan><tspan dy="-2.6"> (µΩ cm</tspan><tspan dy="-4.2" font-size="7.8">2</tspan><tspan dy="4.2">)</tspan></text>
<text x="307.2" y="21.5" class="tb" style="font-size:14.5px">B</text>
</svg>
</body></html>
